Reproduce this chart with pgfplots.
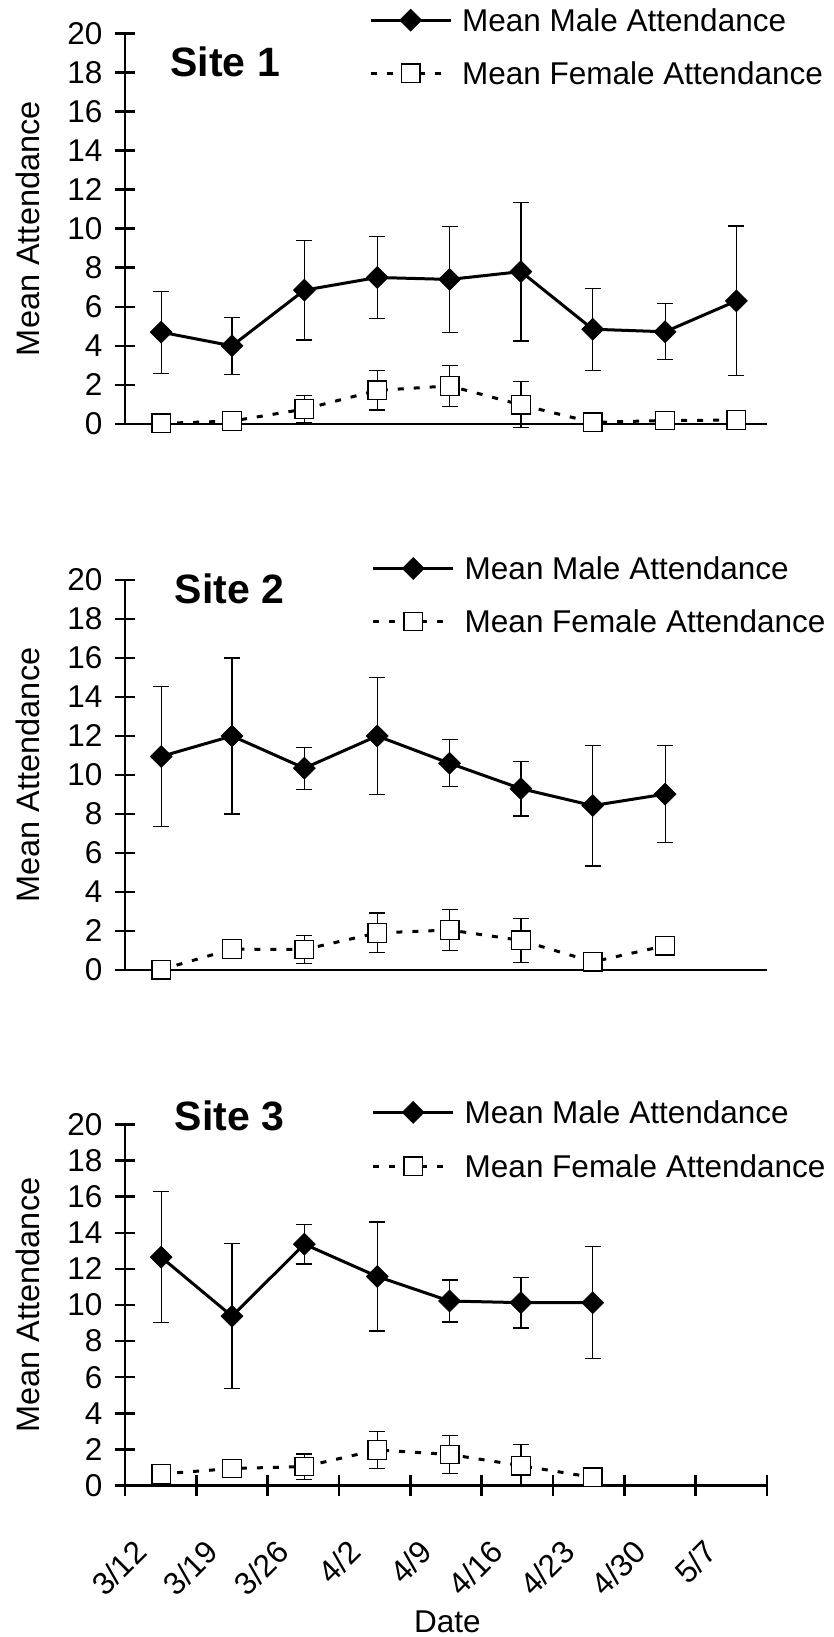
\documentclass[border=0pt]{standalone}
\usepackage{pgfplots}
\pgfplotsset{compat=1.18}
\usepackage{pgfplotstable}
\usepackage{fontspec}
\setmainfont{Liberation Sans}
\newcommand\lbl{\fontsize{31.5}{38}\selectfont}
\newcommand\ylb{\fontsize{32.5}{39}\selectfont}
\newcommand\ttl{\fontsize{41}{49}\selectfont\bfseries}

% Site 1
\pgfplotstableread{
x y e
3.55 4.70 2.10
10.5 4.00 1.45
17.6 6.85 2.55
24.75 7.50 2.10
31.85 7.40 2.70
38.85 7.80 3.55
45.9 4.85 2.10
53.0 4.72 1.43
60.0 6.30 3.83
}\mA
\pgfplotstableread{
x y e
3.55 0.03 0
10.5 0.15 0
17.6 0.76 0.70
24.75 1.72 1.00
31.85 1.95 1.05
38.85 0.98 1.18
45.9 0.08 0
53.0 0.18 0
60.0 0.20 0
}\fA
% Site 2
\pgfplotstableread{
x y e
3.55 10.95 3.60
10.5 12.00 4.00
17.6 10.35 1.08
24.75 12.00 3.00
31.85 10.60 1.20
38.85 9.30 1.40
45.9 8.43 3.10
53.0 9.02 2.48
}\mB
\pgfplotstableread{
x y e
3.55 0.02 0
10.5 1.07 0
17.6 1.05 0.70
24.75 1.90 1.02
31.85 2.05 1.05
38.85 1.52 1.13
45.9 0.42 0
53.0 1.24 0
}\fB
% Site 3
\pgfplotstableread{
x y e
3.55 12.65 3.63
10.5 9.38 4.02
17.6 13.37 1.10
24.75 11.58 3.02
31.85 10.22 1.16
38.85 10.13 1.40
45.9 10.13 3.10
}\mC
\pgfplotstableread{
x y e
3.55 0.64 0
10.5 0.94 0
17.6 1.05 0.70
24.75 1.97 1.03
31.85 1.72 1.06
38.85 1.10 1.15
45.9 0.45 0
}\fC

\pgfplotsset{
 site/.style={
  scale only axis, width=642pt,
  xmin=0, xmax=63, ymin=0, ymax=20,
  axis x line=bottom, axis y line=left,
  axis line style={-, line width=2.5pt, black},
  ytick={0,2,...,20},
  tick align=center, major tick length=20pt,
  major tick style={line width=2.5pt, black},
  tick label style={font=\lbl},
  /pgf/number format/assume math mode=true,
  yticklabel style={anchor=east, inner sep=0pt, xshift=-12.5pt},
  clip=false,
  ylabel={Mean Attendance},
  ylabel style={font=\ylb, at={(axis description cs:-0.152,0.5)}, anchor=center},
  legend cell align=left,
  legend style={draw=none, fill=none, inner sep=0pt, font=\lbl, row sep=30pt,
    nodes={inner sep=0pt, text height=23pt, text depth=0pt}},
  legend image code/.code={\draw[mark repeat=2,mark phase=2,##1] plot coordinates {(0pt,0pt) (40pt,0pt) (80pt,0pt)}; \path (90pt,0pt);},
  title style={font=\ttl, anchor=center},
 },
 male/.style={black, line width=3pt, mark=square*, mark size=7.8pt,
   mark options={rotate=45, solid, fill=black, line width=0.5pt},
   error bars/.cd, y dir=both, y explicit,
   error bar style={line width=1.2pt, solid, black},
   error mark options={rotate=90, mark size=8pt, line width=1.2pt, black}},
 female/.style={black, line width=3pt, dash pattern=on 6pt off 10pt, mark=square*, mark size=9.3pt,
   mark options={solid, fill=white, draw=black, line width=1.3pt},
   error bars/.cd, y dir=both, y explicit,
   error bar style={line width=1.2pt, solid, black},
   error mark options={rotate=90, mark size=8pt, line width=1.2pt, black, solid}},
}

\begin{document}
\begin{tikzpicture}[x=1pt,y=1pt]
\useasboundingbox (0,0) rectangle (833,1637);

\begin{axis}[site, at={(125pt,1213pt)}, anchor=south west, height=390.7pt,
  xtick=\empty,
  title={Site 1}, title style={at={(axis description cs:0.156,0.912)}},
  legend style={at={(axis description cs:0.38,1.0635)}, anchor=north west}]
\addplot[male] table[x=x, y=y, y error=e] {\mA};
\addplot[female] table[x=x, y=y, y error=e] {\fA};
\legend{Mean Male Attendance, Mean Female Attendance}
\end{axis}

\begin{axis}[site, at={(125pt,667pt)}, anchor=south west, height=390pt,
  xtick=\empty,
  title={Site 2}, title style={at={(axis description cs:0.163,0.962)}},
  legend style={at={(axis description cs:0.384,1.0595)}, anchor=north west}]
\addplot[male] table[x=x, y=y, y error=e] {\mB};
\addplot[female] table[x=x, y=y, y error=e] {\fB};
\legend{Mean Male Attendance, Mean Female Attendance}
\end{axis}

\begin{axis}[site, at={(125pt,151.5pt)}, anchor=south west, height=361pt,
  xtick={0,7,...,63},
  xticklabels={3/12,3/19,3/26,4/2,4/9,4/16,4/23,4/30,5/7,{}},
  xticklabel style={yshift=-42.5pt, xshift=7.5pt, rotate=45, anchor=north east, inner sep=0pt},
  xlabel={Date},
  xlabel style={font=\lbl, at={(axis description cs:0.502,-0.3767)}, anchor=center},
  title={Site 3}, title style={at={(axis description cs:0.163,1.008)}},
  legend style={at={(axis description cs:0.384,1.066)}, anchor=north west, row sep=31pt}]
\addplot[male] table[x=x, y=y, y error=e] {\mC};
\addplot[female] table[x=x, y=y, y error=e] {\fC};
\legend{Mean Male Attendance, Mean Female Attendance}
\end{axis}
\end{tikzpicture}
\end{document}
